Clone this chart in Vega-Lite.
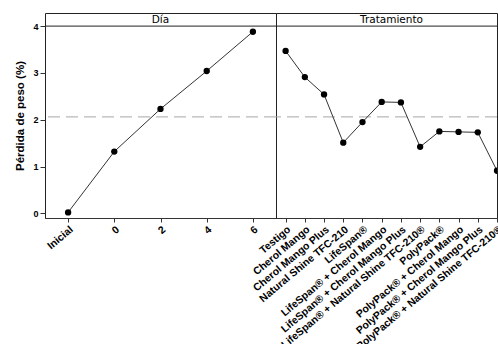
{
  "$schema": "https://vega.github.io/schema/vega-lite/v6.json",
  "background": "white",
  "padding": {"left": 14, "top": 12, "right": 0, "bottom": 0},
  "spacing": 0,
  "bounds": "flush",
  "config": {
    "view": {"stroke": "#222222", "strokeWidth": 1},
    "axis": {
      "grid": false,
      "labelFont": "Liberation Sans",
      "labelFontWeight": "bold",
      "labelFontSize": 9,
      "labelColor": "#000000",
      "domainColor": "#333333",
      "tickColor": "#333333",
      "titleFont": "Liberation Sans",
      "titleFontWeight": "bold",
      "titleFontSize": 11.5,
      "titleColor": "#000000"
    },
    "axisX": {"labelFontSize": 10.5, "labelAngle": -40, "labelLimit": 400, "tickSize": 4, "labelPadding": 2, "title": null},
    "title": {"font": "DejaVu Sans", "fontSize": 10.5, "fontWeight": "normal", "color": "#000000", "offset": -12, "anchor": "middle"}
  },
  "datasets": {
    "dia": [
      {"dia": "Inicial", "perdida": 0.02},
      {"dia": "0", "perdida": 1.32},
      {"dia": "2", "perdida": 2.23},
      {"dia": "4", "perdida": 3.04},
      {"dia": "6", "perdida": 3.88}
    ],
    "tratamiento": [
      {"tratamiento": "Testigo", "perdida": 3.47},
      {"tratamiento": "Cherol Mango", "perdida": 2.91},
      {"tratamiento": "Cherol Mango Plus", "perdida": 2.54},
      {"tratamiento": "Natural Shine TFC-210", "perdida": 1.51},
      {"tratamiento": "LifeSpan®", "perdida": 1.95},
      {"tratamiento": "LifeSpan® + Cherol Mango", "perdida": 2.38},
      {"tratamiento": "LifeSpan® + Cherol Mango Plus", "perdida": 2.37},
      {"tratamiento": "LifeSpan® + Natural Shine TFC-210®", "perdida": 1.42},
      {"tratamiento": "PolyPack®", "perdida": 1.75},
      {"tratamiento": "PolyPack® + Cherol Mango", "perdida": 1.74},
      {"tratamiento": "PolyPack® + Cherol Mango Plus", "perdida": 1.73},
      {"tratamiento": "PolyPack® + Natural Shine TFC-210®", "perdida": 0.91}
    ],
    "media": [{"media": 2.06, "franja": 4.0}]
  },
  "resolve": {"scale": {"y": "shared"}},
  "hconcat": [
    {
      "width": 231,
      "height": 205,
      "title": {"text": "Día"},
      "layer": [
        {
          "data": {"name": "media"},
          "mark": {"type": "rule", "color": "#a6a6a6", "strokeWidth": 1, "strokeDash": [12, 6]},
          "encoding": {"y": {"field": "media", "type": "quantitative"}}
        },
        {
          "data": {"name": "media"},
          "mark": {"type": "rule", "color": "#222222", "strokeWidth": 1},
          "encoding": {"y": {"field": "franja", "type": "quantitative"}}
        },
        {
          "data": {"name": "dia"},
          "mark": {"type": "line", "color": "#333333", "strokeWidth": 1},
          "encoding": {
            "x": {"field": "dia", "type": "nominal", "sort": null, "scale": {"type": "point", "padding": 0.5}},
            "y": {"field": "perdida", "type": "quantitative",
                  "scale": {"domain": [-0.1, 4.28], "nice": false, "zero": false},
                  "axis": {"title": "Pérdida de peso (%)", "values": [0, 1, 2, 3, 4], "domain": false, "tickSize": 5, "labelPadding": 2, "titlePadding": 7}}
          }
        },
        {
          "data": {"name": "dia"},
          "mark": {"type": "point", "filled": true, "color": "#000000", "size": 40, "opacity": 1},
          "encoding": {
            "x": {"field": "dia", "type": "nominal", "sort": null},
            "y": {"field": "perdida", "type": "quantitative"}
          }
        }
      ]
    },
    {
      "width": 221,
      "height": 205,
      "title": {"text": "Tratamiento", "dx": 5},
      "layer": [
        {
          "data": {"name": "media"},
          "mark": {"type": "rule", "color": "#a6a6a6", "strokeWidth": 1, "strokeDash": [12, 6]},
          "encoding": {"y": {"field": "media", "type": "quantitative", "axis": null}}
        },
        {
          "data": {"name": "media"},
          "mark": {"type": "rule", "color": "#222222", "strokeWidth": 1},
          "encoding": {"y": {"field": "franja", "type": "quantitative", "axis": null}}
        },
        {
          "data": {"name": "tratamiento"},
          "mark": {"type": "line", "color": "#333333", "strokeWidth": 1, "clip": true},
          "encoding": {
            "x": {"field": "tratamiento", "type": "nominal", "sort": null, "scale": {"type": "point", "padding": 0.25, "align": 1}},
            "y": {"field": "perdida", "type": "quantitative", "axis": null}
          }
        },
        {
          "data": {"name": "tratamiento"},
          "mark": {"type": "point", "filled": true, "color": "#000000", "size": 40, "opacity": 1, "clip": true},
          "encoding": {
            "x": {"field": "tratamiento", "type": "nominal", "sort": null},
            "y": {"field": "perdida", "type": "quantitative", "axis": null}
          }
        }
      ]
    }
  ]
}
